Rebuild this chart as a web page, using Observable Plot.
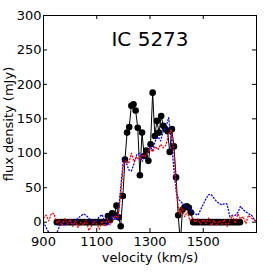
<!DOCTYPE html>
<html>
<head>
<meta charset="utf-8">
<script src="https://cdn.jsdelivr.net/npm/d3@7"></script>
<script src="https://cdn.jsdelivr.net/npm/@observablehq/plot@0.6"></script>
<style>
html, body { margin: 0; padding: 0; background: #fff; }
</style>
</head>
<body>
<div id="chart"></div>
<script>
const title = "IC 5273";
const xLabel = "velocity (km/s)";
const yLabel = "flux density (mJy)";
const xTicks = [900, 1100, 1300, 1500];
const yTicks = [0, 50, 100, 150, 200, 250, 300];

// black: spectrum with markers
const blackV = [950, 958, 966, 974, 982, 990, 998, 1006, 1014, 1022, 1030, 1038, 1046, 1054, 1062, 1070, 1078, 1086, 1094, 1102, 1110, 1118, 1126, 1134,
  1142, 1150, 1158, 1166, 1174, 1182, 1190, 1198, 1206, 1214, 1222, 1230, 1238, 1246, 1254, 1262, 1270, 1278, 1286, 1294, 1302, 1310, 1318, 1326, 1334, 1342, 1350, 1358, 1366, 1374, 1382, 1390, 1398, 1406, 1414, 1422, 1430, 1438, 1446, 1454,
  1462, 1470, 1478, 1486, 1494, 1502, 1510, 1518, 1526, 1534, 1542, 1550, 1558, 1566, 1574, 1582, 1590, 1598, 1606, 1614, 1622, 1630, 1638];
const blackF = [0, 0, 0, 0, 0, 0, 0, 0, 0, 0, 0, 0, 0, 0, 0, 0, 0, 0, 0, 0, 0, 0, 0, 0,
  9, 3, 13, 11, 24, 7, -6, 38, 91, 130, 138, 169, 171, 162, 137, 68, 130, 96, 104, 89, 113, 188, 125, 147, 130, 154, 140, 135, 132, 102, 135, 110, 65, 10, -30, 18, 22, 23, 21, 14,
  0, 0, 0, 0, 0, 0, 0, 0, 0, 0, 0, 0, 0, 0, 0, 0, 0, 0, 0, 0, 0, 0, 0];

// red dotted
const redV = [900, 910, 920, 930, 940, 950, 960, 970, 980, 990, 1000, 1010, 1020, 1030, 1040, 1050, 1060, 1070, 1080, 1090, 1100, 1110, 1120, 1130, 1140, 1150, 1160, 1170, 1180, 1190, 1200, 1210, 1220, 1230, 1240, 1250, 1260, 1270, 1280, 1290, 1300, 1310, 1320, 1330, 1340, 1350, 1360, 1370, 1380, 1390, 1400, 1410, 1420, 1430, 1440, 1450, 1460, 1470, 1480, 1490, 1500, 1510, 1520, 1530, 1540, 1550, 1560, 1570, 1580, 1590, 1600, 1610, 1620, 1630, 1640, 1650, 1660, 1670, 1680, 1690, 1700];
const redF = [6, 10, 2, 13, 12, -2, 3, -5, 5, -3, 4, -6, 2, -8, 0, -4, 3, -12, -6, 2, -3, -10, 2, -6, 5, -4, 2, 10, 6, 40, 84, 90, 85, 100, 88, 95, 90, 98, 95, 100, 108, 102, 110, 105, 113, 108, 112, 128, 135, 100, 40, 12, 21, 8, 15, 2, 6, 0, 5, -3, 4, -2, 6, -5, 3, -4, 2, -3, 4, -6, 3, 10, -2, 12, 5, 8, -2, 10, 6, 4, 0];

// blue dotted
const blueV = [900, 910, 920, 930, 940, 950, 960, 970, 980, 990, 1000, 1010, 1020, 1030, 1040, 1050, 1060, 1070, 1080, 1090, 1100, 1110, 1120, 1130, 1140, 1150, 1160, 1170, 1180, 1190, 1200, 1210, 1220, 1230, 1240, 1250, 1260, 1270, 1280, 1290, 1300, 1310, 1320, 1330, 1340, 1350, 1360, 1370, 1380, 1390, 1400, 1410, 1420, 1430, 1440, 1450, 1460, 1470, 1480, 1490, 1500, 1510, 1520, 1530, 1540, 1550, 1560, 1570, 1580, 1590, 1600, 1610, 1620, 1630, 1640, 1650, 1660, 1670, 1680, 1690, 1700];
const blueF = [0, -8, -15, -18, -16, -16, -6, 2, -4, -2, 3, -3, 2, 6, 9, 12, 10, 6, 2, -1, 3, 8, 11, 1, -5, 4, 9, 3, 8, 50, 92, 88, 76, 74, 85, 98, 100, 88, 95, 100, 110, 104, 118, 124, 118, 132, 138, 152, 120, 75, 40, 32, 28, 24, 21, 20, 15, 12, 10, 18, 26, 34, 40, 40, 35, 30, 27, 25, 27, 26, 8, 10, 10, 14, 23, 18, 15, 12, 11, 5, 1];

const black = blackV.map((v, i) => ({v, f: blackF[i]}));
const red = redV.map((v, i) => ({v, f: redF[i]}));
const blue = blueV.map((v, i) => ({v, f: blueF[i]}));

const W = 273, H = 273;
const mL = 43, mR = 17, mT = 15, mB = 41;
const fw = W - mL - mR, fh = H - mT - mB;
const tk = 4;

const chart = Plot.plot({
  width: W,
  height: H,
  marginLeft: mL,
  marginRight: mR,
  marginTop: mT,
  marginBottom: mB,
  style: {fontFamily: "DejaVu Sans", fontSize: "13px", color: "black", background: "white"},
  x: {domain: [900, 1700]},
  y: {domain: [-15, 300]},
  marks: [
    Plot.line(black, {x: "v", y: "f", stroke: "black", strokeWidth: 1, clip: true}),
    Plot.dot(black, {x: "v", y: "f", r: 3.3, fill: "black", stroke: "none", clip: true}),
    Plot.line(blue, {x: "v", y: "f", stroke: "#0000ff", strokeWidth: 1.3, strokeDasharray: "1,2.2", clip: true}),
    Plot.line(red, {x: "v", y: "f", stroke: "#ff0000", strokeWidth: 1.3, strokeDasharray: "1,2.2", clip: true}),
    Plot.frame({stroke: "black", strokeWidth: 1}),
    Plot.tickX(xTicks, {x: d => d, insetTop: fh - tk, stroke: "black"}),
    Plot.tickX(xTicks, {x: d => d, insetBottom: fh - tk, stroke: "black"}),
    Plot.tickY(yTicks, {y: d => d, insetRight: fw - tk, stroke: "black"}),
    Plot.tickY(yTicks, {y: d => d, insetLeft: fw - tk, stroke: "black"}),
    Plot.axisX(xTicks, {tickSize: 0, tickPadding: 4, fontSize: 13, label: null, fill: "black", tickFormat: d => String(d)}),
    Plot.axisY(yTicks, {tickSize: 0, tickPadding: 2, fontSize: 13, label: null, fill: "black", tickFormat: d => String(d)}),
    Plot.text([title], {frameAnchor: "top", lineAnchor: "top", textAnchor: "middle", dy: 16.5, fontSize: 20, fill: "black", text: d => d}),
    Plot.text([xLabel], {frameAnchor: "bottom", lineAnchor: "middle", textAnchor: "middle", dy: 25.5, fontSize: 13, fill: "black", text: d => d}),
    Plot.text([yLabel], {frameAnchor: "left", lineAnchor: "middle", textAnchor: "middle", dx: -34.5, rotate: -90, fontSize: 13, fill: "black", text: d => d})
  ]
});
document.getElementById("chart").appendChild(chart);
</script>
</body>
</html>
